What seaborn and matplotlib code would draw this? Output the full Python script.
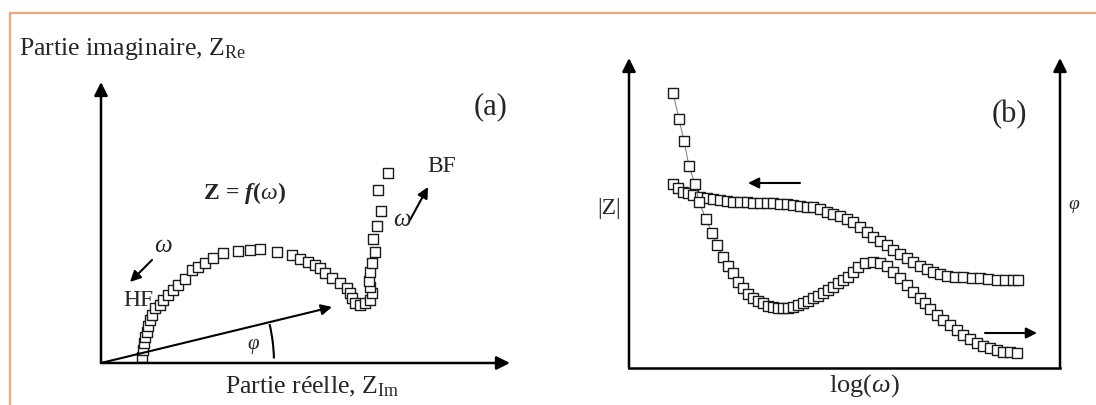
import matplotlib
matplotlib.use("Agg")
import matplotlib.pyplot as plt
from matplotlib.patches import Arc
from matplotlib.lines import Line2D
import seaborn as sns

# ---------------- data (arbitrary units) ----------------
# (a) Nyquist diagram: real part / imaginary part, from HF to BF
nyq_re = [41, 42, 43, 44, 46, 47, 49, 51, 54, 59, 62, 67, 72, 77, 84, 91, 97, 104,
          112, 122, 137, 149, 159, 176, 191, 199, 207, 214, 219, 224, 231, 239, 246,
          249, 251, 254, 259, 264, 269, 271, 269, 268, 269, 271, 274, 272, 276, 280,
          277, 287]
nyq_im = [6, 13, 20, 26, 31, 37, 43, 48, 55, 58, 63, 68, 73, 78, 84, 93, 96, 100,
          105, 110, 112, 113, 114, 111, 108, 104, 101, 98, 95, 90, 85, 80, 75,
          70, 65, 60, 58, 60, 63, 70, 76, 82, 91, 100, 111, 124, 137, 152,
          173, 190]
# phase-vector end point and arc radius
vec_end = (231, 56)
arc_radius = 173

# (b) Bode diagram: log(omega) vs |Z| and phase
phi_logw = [44, 50, 55, 60, 66, 70, 77, 83, 88, 94, 99, 104, 109, 114, 119, 124, 129,
            134, 139, 144, 149, 154, 159, 164, 169, 174, 179, 184, 189, 194, 199, 204,
            209, 214, 219, 224, 229, 236, 244, 251, 258, 264, 271, 278, 284, 291, 296,
            301, 308, 314, 321, 328, 334, 341, 348, 354, 361, 368, 374, 381, 388]
phi_val = [275, 249, 227, 202, 184, 166, 149, 135, 123, 111, 102, 95, 86, 80, 74, 70,
           67, 65, 62, 61, 60, 60, 60, 61, 63, 65, 67, 70, 72, 75, 78, 81, 85, 88, 91,
           96, 101, 105, 106, 105, 102, 96, 90, 83, 76, 70, 65, 59, 53, 48, 43, 38,
           33, 29, 25, 22, 20, 18, 16, 16, 15]
z_logw = [44, 49, 54, 59, 64, 71, 78, 84, 91, 98, 104, 111, 118, 124, 131, 138, 144,
          151, 158, 164, 171, 178, 184, 191, 198, 204, 211, 218, 224, 231, 238, 244,
          251, 258, 264, 271, 278, 284, 291, 298, 304, 311, 318, 326, 334, 343, 351,
          359, 368, 376, 384, 389]
z_mod = [184, 180, 176, 175, 173, 171, 170, 169, 168, 167, 166, 166, 166, 165, 165,
         165, 165, 164, 164, 163, 162, 161, 161, 159, 156, 154, 152, 149, 146, 141,
         136, 131, 127, 123, 118, 114, 110, 106, 102, 99, 96, 94, 92, 91, 91, 90, 90,
         89, 88, 88, 88, 88]

# ---------------- style ----------------
sns.set_theme(style="white")
plt.rcParams["font.family"] = ["Liberation Serif", "DejaVu Serif"]
plt.rcParams["mathtext.fontset"] = "custom"
plt.rcParams["mathtext.rm"] = "Liberation Serif"
plt.rcParams["mathtext.it"] = "Liberation Serif:italic"
plt.rcParams["mathtext.bf"] = "Liberation Serif:bold"
plt.rcParams["mathtext.bfit"] = "Liberation Serif:italic:bold"

W, H = 1096, 405
fig = plt.figure(figsize=(W / 100, H / 100), dpi=100)
fig.patch.set_facecolor("white")


def px_rect(x0, y_top, x1, y_bot):
    return [x0 / W, 1 - y_bot / H, (x1 - x0) / W, (y_bot - y_top) / H]


def ftext(x, y, s, **kw):
    fig.text(x / W, 1 - y / H, s, **kw)


# orange frame (top and left edges)
orange = "#F2A57C"
fig.add_artist(Line2D([9.5 / W, 1], [1 - 13 / H, 1 - 13 / H], color=orange, lw=1.6,
                      transform=fig.transFigure))
fig.add_artist(Line2D([9.5 / W, 9.5 / W], [1 - 13 / H, 0], color=orange, lw=1.6,
                      transform=fig.transFigure))

arrow_kw = dict(arrowstyle="-|>", color="black", lw=1.8, mutation_scale=20,
                shrinkA=0, shrinkB=0)
small_arrow = dict(arrowstyle="-|>", color="black", lw=1.5, mutation_scale=16,
                   shrinkA=0, shrinkB=0)

mk_a = dict(marker="s", s=42, facecolor="white", edgecolor="#1a1a1a", linewidth=1.0)
mk_b = dict(marker="s", s=52, facecolor="white", edgecolor="#1a1a1a", linewidth=1.0)

# ---------------- panel (a) ----------------
ax_a = fig.add_axes(px_rect(101, 82, 510, 363))
ax_a.set_xlim(0, 409)
ax_a.set_ylim(0, 281)
ax_a.axis("off")
sns.scatterplot(x=nyq_re, y=nyq_im, ax=ax_a, zorder=3, clip_on=False, **mk_a)
ax_a.annotate("", xy=(0, 281), xytext=(0, 0), arrowprops=arrow_kw, annotation_clip=False)
ax_a.annotate("", xy=(409, 0), xytext=(0, 0), arrowprops=arrow_kw, annotation_clip=False)
ax_a.annotate("", xy=vec_end, xytext=(0, 0), arrowprops=small_arrow, annotation_clip=False)
ax_a.add_patch(Arc((0, 0), 2 * arc_radius, 2 * arc_radius, theta1=1.5, theta2=13.0,
                   color="black", lw=1.5))
ax_a.annotate("", xy=(29, 81), xytext=(51, 103), arrowprops=small_arrow, annotation_clip=False)
ax_a.annotate("", xy=(327, 176), xytext=(309, 143), arrowprops=small_arrow, annotation_clip=False)

ftext(19, 49, r"Partie imaginaire, Z$_{\mathrm{Re}}$", fontsize=18.5, ha="left", va="center")
ftext(491, 107, "(a)", fontsize=22, ha="center", va="center")
ftext(245, 193, r"$\mathbf{Z}\,\mathbf{=}\,\mathbfit{f}\mathbf{(}\mathit{\omega}\mathbf{)}$",
      fontsize=17, ha="center", va="center")
ftext(163, 246, r"$\omega$", fontsize=18, ha="center", va="center")
ftext(138, 300, "HF", fontsize=17, ha="center", va="center")
ftext(442, 167, "BF", fontsize=17, ha="center", va="center")
ftext(402, 220, r"$\omega$", fontsize=18, ha="center", va="center")
ftext(253, 347, r"$\varphi$", fontsize=15, ha="center", va="center")
ftext(312, 387, r"Partie réelle, Z$_{\mathrm{Im}}$", fontsize=18.5, ha="center", va="center")

# ---------------- panel (b) ----------------
ax_b = fig.add_axes(px_rect(629, 58, 1060, 368))
ax_b.set_xlim(0, 431)
ax_b.set_ylim(0, 310)
ax_b.axis("off")
ax_b2 = ax_b.twinx()
ax_b2.set_ylim(0, 310)
ax_b2.axis("off")

sns.scatterplot(x=z_logw, y=z_mod, ax=ax_b, zorder=3, **mk_b)
sns.lineplot(x=phi_logw, y=phi_val, ax=ax_b2, color="#777777", lw=0.7, zorder=2,
             sort=False)
sns.scatterplot(x=phi_logw, y=phi_val, ax=ax_b2, zorder=3, **mk_b)

ax_b.annotate("", xy=(0, 310), xytext=(0, 0), arrowprops=arrow_kw, annotation_clip=False)
ax_b.annotate("", xy=(431, 310), xytext=(431, 0), arrowprops=arrow_kw, annotation_clip=False)
ax_b.plot([0, 431], [0, 0], color="black", lw=1.8, clip_on=False, solid_capstyle="projecting")
ax_b.annotate("", xy=(119, 185), xytext=(171, 185), arrowprops=small_arrow, annotation_clip=False)
ax_b.annotate("", xy=(408, 35), xytext=(356, 35), arrowprops=small_arrow, annotation_clip=False)

ftext(1009, 115, "(b)", fontsize=22, ha="center", va="center")
ftext(609, 208, "|Z|", fontsize=17, ha="center", va="center")
ftext(1074, 207, r"$\varphi$", fontsize=14, ha="center", va="center")
ftext(864, 386, r"log$(\omega)$", fontsize=19, ha="center", va="center")

fig.savefig("out.png", dpi=100, facecolor="white")
